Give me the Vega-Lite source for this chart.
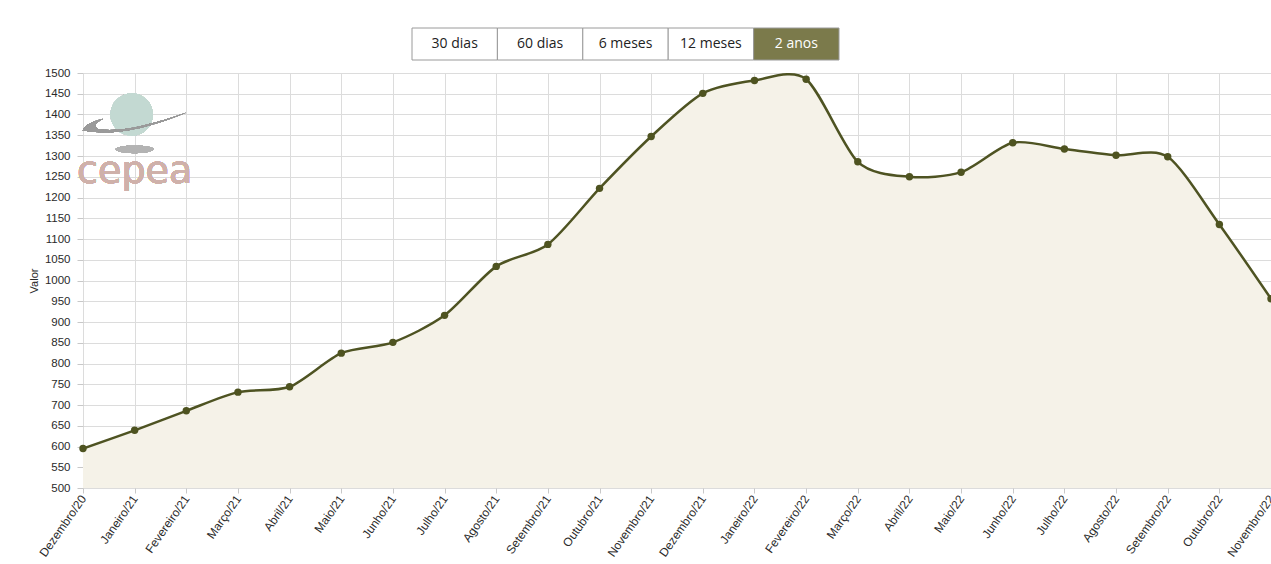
{
  "$schema": "https://vega.github.io/schema/vega-lite/v6.json",
  "background": "white",
  "padding": {"left": 28, "top": 27, "right": 0, "bottom": 0},
  "bounds": "flush",
  "spacing": 13,
  "config": {"view": {"stroke": null}, "font": "Liberation Sans"},
  "vconcat": [
    {
      "width": 1188,
      "height": 32,
      "data": {"values": [
        {"periodo": "30 dias", "ativo": "não"},
        {"periodo": "60 dias", "ativo": "não"},
        {"periodo": "6 meses", "ativo": "não"},
        {"periodo": "12 meses", "ativo": "não"},
        {"periodo": "2 anos", "ativo": "sim"}
      ]},
      "encoding": {
        "x": {"field": "periodo", "type": "nominal", "sort": null, "axis": null,
              "scale": {"type": "band", "paddingInner": 0, "paddingOuter": 0, "range": [329, 756]}}
      },
      "layer": [
        {
          "mark": {"type": "rect", "stroke": "#9a9a9a", "strokeWidth": 1},
          "encoding": {
            "fill": {"field": "ativo", "type": "nominal", "legend": null,
                     "scale": {"domain": ["não", "sim"], "range": ["#ffffff", "#7b7a4b"]}}
          }
        },
        {
          "mark": {"type": "text", "font": "Open Sans", "fontSize": 14, "baseline": "middle", "align": "center"},
          "encoding": {
            "text": {"field": "periodo"},
            "color": {"field": "ativo", "type": "nominal", "legend": null,
                      "scale": {"domain": ["não", "sim"], "range": ["#222222", "#ffffff"]}}
          }
        }
      ]
    },
    {
      "width": 1188,
      "height": 415,
      "data": {"values": [
        {"mes": "Dezembro/20", "valor": 595},
        {"mes": "Janeiro/21", "valor": 639},
        {"mes": "Fevereiro/21", "valor": 686},
        {"mes": "Março/21", "valor": 731},
        {"mes": "Abril/21", "valor": 744},
        {"mes": "Maio/21", "valor": 825},
        {"mes": "Junho/21", "valor": 851},
        {"mes": "Julho/21", "valor": 916},
        {"mes": "Agosto/21", "valor": 1034},
        {"mes": "Setembro/21", "valor": 1087},
        {"mes": "Outubro/21", "valor": 1222},
        {"mes": "Novembro/21", "valor": 1347},
        {"mes": "Dezembro/21", "valor": 1451},
        {"mes": "Janeiro/22", "valor": 1482},
        {"mes": "Fevereiro/22", "valor": 1485},
        {"mes": "Março/22", "valor": 1286},
        {"mes": "Abril/22", "valor": 1250},
        {"mes": "Maio/22", "valor": 1261},
        {"mes": "Junho/22", "valor": 1332},
        {"mes": "Julho/22", "valor": 1317},
        {"mes": "Agosto/22", "valor": 1302},
        {"mes": "Setembro/22", "valor": 1298},
        {"mes": "Outubro/22", "valor": 1135},
        {"mes": "Novembro/22", "valor": 956}
      ]},
      "encoding": {
        "x": {
          "field": "mes", "type": "ordinal", "sort": null,
          "scale": {"type": "point", "padding": 0},
          "axis": {
            "title": null, "grid": true, "gridColor": "#dcdcdc", "domain": false,
            "tickColor": "#c8c8c8", "tickSize": 5, "labelAngle": -55,
            "labelFontSize": 12, "labelColor": "#2a2a2a", "labelPadding": 3
          }
        },
        "y": {
          "field": "valor", "type": "quantitative",
          "scale": {"domain": [500, 1500], "nice": false, "zero": false},
          "axis": {
            "title": "Valor", "titleFontSize": 11, "titleFontWeight": "normal", "titleColor": "#2a2a2a",
            "titlePadding": 5, "format": "d",
            "values": [500, 550, 600, 650, 700, 750, 800, 850, 900, 950, 1000, 1050, 1100, 1150, 1200, 1250, 1300, 1350, 1400, 1450, 1500],
            "grid": true, "gridColor": "#dcdcdc", "domain": false,
            "tickColor": "#c8c8c8", "tickSize": 6, "labelPadding": 7,
            "labelFontSize": 11.5, "labelColor": "#2a2a2a"
          }
        }
      },
      "layer": [
        {
          "mark": {"type": "area", "interpolate": "cardinal", "tension": 0.2, "color": "#f5f2e8", "clip": true},
          "encoding": {"y2": {"datum": 500}}
        },
        {
          "mark": {"type": "point", "filled": true, "size": 1800, "color": "#c3d8d1", "opacity": 0.9},
          "encoding": {"x": {"datum": "Janeiro/21", "type": "ordinal"}, "y": {"datum": 1400, "type": "quantitative"}, "xOffset": {"value": -3}}
        },
        {
          "mark": {"type": "point", "filled": true, "size": 1444, "color": "#b3b3b3", "opacity": 0.8,
                   "shape": "M -1 0 A 1 0.2 0 1 0 1 0 A 1 0.2 0 1 0 -1 0 Z"},
          "encoding": {"x": {"datum": "Janeiro/21", "type": "ordinal"}, "y": {"datum": 1316, "type": "quantitative"}}
        },
        {
          "mark": {"type": "point", "filled": true, "size": 10816, "color": "#9a9a9a", "opacity": 0.75,
                   "shape": "M -1 0.15 Q -0.95 0 -0.6 -0.08 Q -0.85 0.04 -0.7 0.12 Q -0.2 0.22 1 -0.2 Q -0.2 0.3 -1 0.15 Z"},
          "encoding": {"x": {"datum": "Janeiro/21", "type": "ordinal"}, "y": {"datum": 1380, "type": "quantitative"}}
        },
        {
          "mark": {"type": "text", "text": "cepea", "fontSize": 38, "font": "DejaVu Sans", "color": "#cfb1aa", "align": "center", "baseline": "middle"},
          "encoding": {"x": {"datum": "Janeiro/21", "type": "ordinal"}, "y": {"datum": 1262, "type": "quantitative"}}
        },
        {
          "mark": {"type": "line", "interpolate": "cardinal", "tension": 0.2, "color": "#4e5322", "strokeWidth": 2.5, "clip": true}
        },
        {
          "mark": {"type": "point", "filled": true, "size": 55, "color": "#4e5320", "opacity": 1}
        }
      ]
    }
  ]
}
